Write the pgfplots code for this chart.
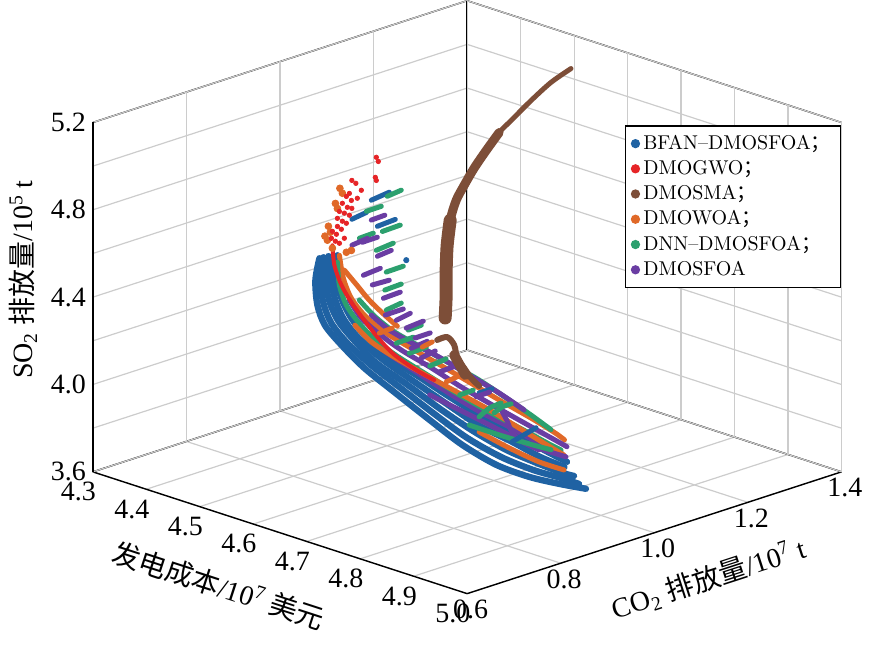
\documentclass[border=0pt]{standalone}
\usepackage{fontspec}
\usepackage{pgfplots}
\pgfplotsset{compat=1.18}
\newfontfamily\tnr{Liberation Serif}
\newfontfamily\cjk{Noto Sans CJK SC}
\definecolor{bl}{RGB}{31,98,163}
\definecolor{rd}{RGB}{230,36,39}
\definecolor{br}{RGB}{125,78,56}
\definecolor{og}{RGB}{224,105,40}
\definecolor{gn}{RGB}{44,160,110}
\definecolor{pp}{RGB}{106,61,163}
\pgfplotsset{
  strand/.style={forget plot, mark=none, line width=2.5pt, smooth, line cap=round, line join=round},
}
\begin{document}
\begin{tikzpicture}
\begin{axis}[
  x={(267.86pt,-87.14pt)}, y={(234.375pt,76.25pt)}, z={(0pt,109.375pt)},
  xmin=4.3, xmax=5.0, ymin=0.6, ymax=1.4, zmin=3.6, zmax=5.2,
  xtick={4.3,4.4,4.5,4.6,4.7,4.8,4.9,5.0},
  ytick={0.6,0.8,1.0,1.2,1.4},
  ztick={3.6,4.0,4.4,4.8,5.2},
  minor ztick={3.8,4.2,4.6,5.0},
  tick pos=left,
  grid=both,
  major grid style={draw=black!20, line width=0.6pt},
  minor grid style={draw=black!20, line width=0.6pt},
  axis line style={line width=0.7pt},
  major tick length=0pt,
  minor tick length=0pt,
  ticklabel style={font=\tnr\fontsize{14}{16}\selectfont},
  yticklabel style={xshift=-5.5pt, yshift=2pt},
  /pgf/number format/fixed,
  /pgf/number format/fixed zerofill,
  /pgf/number format/precision=1,
  /pgf/number format/assume math mode=true,
  label style={font=\tnr\fontsize{14}{16}\selectfont},
  xlabel={{\cjk 发电成本}/10\textsuperscript{7} {\cjk 美元}},
  ylabel={CO\textsubscript{2} {\cjk 排放量}/10\textsuperscript{7} t},
  zlabel={SO\textsubscript{2} {\cjk 排放量}/10\textsuperscript{5} t},
  xlabel style={at={(ticklabel cs:0.45)}, sloped like x axis, anchor=near ticklabel},
  ylabel style={at={(ticklabel cs:0.545)}, sloped like y axis, anchor=near ticklabel},
  zlabel style={at={(ticklabel cs:0.55)}, anchor=south},
  clip=false,
  legend style={at={(1,0.79)}, anchor=north east, draw=black, line width=0.8pt,
    font=\fontsize{10}{11.5}\selectfont, inner xsep=3pt, inner ysep=2.5pt, row sep=0pt},
  legend cell align=left,
  legend image code/.code={\draw[#1] plot coordinates {(0.08cm,0cm)};},
]
\coordinate (A) at (axis cs:4.3,0.6,3.6);
\addlegendimage{only marks, mark=*, mark size=1.9pt, bl}
\addlegendentry{BFAN--DMOSFOA{\cjk ；}}
\addlegendimage{only marks, mark=*, mark size=1.9pt, rd}
\addlegendentry{DMOGWO{\cjk ；}}
\addlegendimage{only marks, mark=*, mark size=1.9pt, br}
\addlegendentry{DMOSMA{\cjk ；}}
\addlegendimage{only marks, mark=*, mark size=1.9pt, og}
\addlegendentry{DMOWOA{\cjk ；}}
\addlegendimage{only marks, mark=*, mark size=1.9pt, gn}
\addlegendentry{DNN--DMOSFOA{\cjk ；}}
\addlegendimage{only marks, mark=*, mark size=1.9pt, pp}
\addlegendentry{DMOSFOA}

% ---- BFAN-DMOSFOA long fronts
\addplot3[strand, bl, line width=3.2pt] coordinates {(4.582,0.762,4.690) (4.578,0.758,4.589) (4.580,0.760,4.475) (4.587,0.768,4.383) (4.602,0.786,4.292) (4.624,0.810,4.187) (4.652,0.842,4.077) (4.685,0.880,3.949) (4.715,0.915,3.835) (4.747,0.951,3.744) (4.778,0.986,3.689) (4.806,1.018,3.657) (4.831,1.047,3.634)};
\addplot3[strand, bl, line width=3.2pt] coordinates {(4.586,0.766,4.695) (4.583,0.763,4.594) (4.586,0.766,4.484) (4.593,0.775,4.392) (4.608,0.792,4.301) (4.630,0.817,4.201) (4.657,0.849,4.096) (4.689,0.885,3.977) (4.720,0.920,3.867) (4.752,0.956,3.780) (4.782,0.990,3.721) (4.808,1.020,3.684) (4.825,1.039,3.657)};
\addplot3[strand, bl, line width=3.2pt] coordinates {(4.590,0.772,4.699) (4.587,0.768,4.603) (4.591,0.773,4.493) (4.600,0.782,4.402) (4.615,0.800,4.310) (4.635,0.823,4.210) (4.663,0.855,4.114) (4.695,0.891,4.000) (4.726,0.926,3.899) (4.756,0.962,3.812) (4.784,0.994,3.753) (4.810,1.022,3.707) (4.820,1.034,3.693)};
\addplot3[strand, bl, line width=3.2pt] coordinates {(4.594,0.776,4.699) (4.592,0.774,4.608) (4.597,0.779,4.498) (4.605,0.789,4.406) (4.620,0.806,4.315) (4.642,0.830,4.224) (4.670,0.862,4.128) (4.699,0.897,4.027) (4.730,0.932,3.926) (4.762,0.968,3.849) (4.788,0.998,3.780) (4.811,1.024,3.734)};
\addplot3[strand, bl, line width=3.2pt] coordinates {(4.599,0.781,4.704) (4.597,0.779,4.612) (4.602,0.786,4.507) (4.612,0.796,4.416) (4.627,0.813,4.324) (4.647,0.837,4.233) (4.675,0.869,4.146) (4.705,0.903,4.050) (4.736,0.938,3.958) (4.767,0.973,3.881) (4.792,1.002,3.812) (4.813,1.027,3.757)};

% ---- other long fronts
\addplot3[strand, pp] coordinates {(4.621,0.807,4.361) (4.642,0.830,4.269) (4.670,0.862,4.178) (4.699,0.897,4.082) (4.730,0.932,3.991) (4.761,0.967,3.913) (4.787,0.997,3.844) (4.808,1.020,3.803)};
\addplot3[strand, og] coordinates {(4.601,0.783,4.704) (4.604,0.788,4.598) (4.612,0.796,4.507) (4.625,0.811,4.425) (4.643,0.832,4.351) (4.664,0.856,4.288) (4.690,0.886,4.214) (4.720,0.920,4.128) (4.750,0.954,4.041) (4.780,0.988,3.958) (4.802,1.014,3.890) (4.811,1.024,3.858)};
\addplot3[strand, og] coordinates {(4.605,0.789,4.635) (4.617,0.802,4.567) (4.629,0.815,4.498) (4.643,0.832,4.429) (4.655,0.845,4.379)};
\addplot3[strand, gn] coordinates {(4.599,0.781,4.672) (4.601,0.783,4.567) (4.607,0.791,4.475) (4.618,0.804,4.397) (4.634,0.822,4.315) (4.655,0.845,4.242) (4.682,0.876,4.159) (4.712,0.910,4.068) (4.742,0.946,3.981) (4.772,0.980,3.904) (4.797,1.007,3.840) (4.808,1.020,3.812)};
\addplot3[strand, og] coordinates {(4.615,0.800,4.383) (4.630,0.818,4.306) (4.652,0.842,4.237) (4.680,0.874,4.159) (4.711,0.909,4.077) (4.741,0.944,3.995) (4.769,0.975,3.913) (4.795,1.005,3.835) (4.811,1.023,3.789)};
\addplot3[strand, pp] coordinates {(4.610,0.794,4.498) (4.621,0.807,4.416) (4.638,0.826,4.343) (4.658,0.850,4.269) (4.685,0.880,4.192) (4.714,0.914,4.100) (4.745,0.949,4.013) (4.775,0.983,3.931) (4.798,1.010,3.867) (4.813,1.027,3.826)};
\addplot3[strand, gn] coordinates {(4.619,0.805,4.498) (4.633,0.821,4.425) (4.651,0.841,4.356) (4.673,0.867,4.292) (4.699,0.897,4.219) (4.729,0.931,4.137) (4.755,0.960,4.055) (4.780,0.988,3.972) (4.798,1.010,3.904)};
\addplot3[strand, pp] coordinates {(4.630,0.818,4.429) (4.647,0.837,4.361) (4.669,0.861,4.301) (4.694,0.890,4.237) (4.722,0.922,4.155) (4.750,0.954,4.073) (4.773,0.981,3.995)};
\addplot3[strand, pp] coordinates {(4.685,0.880,4.064) (4.713,0.912,3.995) (4.741,0.944,3.926) (4.769,0.975,3.858) (4.792,1.002,3.812) (4.812,1.026,3.780)};
\addplot3[strand, pp] coordinates {(4.752,0.956,3.995) (4.756,0.962,3.954) (4.762,0.968,3.894) (4.771,0.979,3.849) (4.787,0.997,3.812)};
\addplot3[strand, og] coordinates {(4.731,0.933,3.894) (4.759,0.965,3.821) (4.787,0.997,3.757) (4.811,1.023,3.721)};
\addplot3[strand, gn] coordinates {(4.722,0.922,3.926) (4.750,0.954,3.881) (4.778,0.986,3.840) (4.798,1.010,3.812)};
\addplot3[strand, rd, line width=2pt] coordinates {(4.594,0.776,4.749) (4.596,0.778,4.658) (4.602,0.786,4.567) (4.612,0.796,4.488) (4.624,0.810,4.406) (4.636,0.824,4.329) (4.649,0.839,4.260) (4.661,0.853,4.214) (4.675,0.869,4.169) (4.689,0.885,4.132)};

% ---- short strokes (fan)
\addplot3[strand, bl] coordinates {(4.630,0.818,4.955) (4.647,0.837,4.992)};
\addplot3[strand, bl] coordinates {(4.612,0.797,4.868) (4.626,0.812,4.900)};
\addplot3[strand, bl] coordinates {(4.636,0.824,4.836) (4.653,0.843,4.868)};
\addplot3[strand, bl] coordinates {(4.731,0.933,4.073) (4.743,0.947,4.091)};
\addplot3[strand, bl] coordinates {(4.762,0.968,3.849) (4.784,0.994,3.913)};
\addplot3[forget plot, only marks, mark=*, mark size=1.3pt, bl] coordinates {(4.663,0.855,4.681)};

\addplot3[strand, gn] coordinates {(4.626,0.812,4.905) (4.640,0.828,4.928)};
\addplot3[strand, gn] coordinates {(4.645,0.835,4.973) (4.658,0.850,5.001)};
\addplot3[strand, gn] coordinates {(4.641,0.829,4.813) (4.657,0.849,4.841)};
\addplot3[strand, gn] coordinates {(4.619,0.805,4.781) (4.632,0.820,4.804)};
\addplot3[strand, gn] coordinates {(4.635,0.823,4.726) (4.651,0.841,4.759)};
\addplot3[strand, gn] coordinates {(4.644,0.834,4.626) (4.660,0.852,4.653)};
\addplot3[strand, gn] coordinates {(4.643,0.832,4.544) (4.658,0.850,4.571)};
\addplot3[strand, gn] coordinates {(4.644,0.834,4.452) (4.658,0.850,4.484)};
\addplot3[strand, gn] coordinates {(4.665,0.857,4.361) (4.677,0.871,4.383)};
\addplot3[strand, gn] coordinates {(4.654,0.844,4.301) (4.670,0.862,4.329)};
\addplot3[strand, gn] coordinates {(4.666,0.858,4.255) (4.682,0.876,4.283)};
\addplot3[strand, gn] coordinates {(4.685,0.880,4.196) (4.700,0.898,4.228)};
\addplot3[strand, gn] coordinates {(4.713,0.912,4.064) (4.726,0.926,4.086)};
\addplot3[strand, gn] coordinates {(4.731,0.933,3.963) (4.741,0.944,4.004) (4.752,0.956,4.027)};
\addplot3[strand, gn] coordinates {(4.745,0.949,3.981) (4.753,0.957,4.009) (4.761,0.967,4.023)};

\addplot3[strand, pp] coordinates {(4.630,0.818,4.864) (4.643,0.832,4.887)};
\addplot3[strand, pp] coordinates {(4.612,0.797,4.749) (4.627,0.813,4.781)};
\addplot3[strand, pp] coordinates {(4.622,0.808,4.763) (4.636,0.824,4.786)};
\addplot3[strand, pp] coordinates {(4.636,0.824,4.699) (4.649,0.839,4.726)};
\addplot3[strand, pp] coordinates {(4.623,0.809,4.612) (4.639,0.827,4.644)};
\addplot3[strand, pp] coordinates {(4.631,0.819,4.567) (4.647,0.837,4.589)};
\addplot3[strand, pp] coordinates {(4.642,0.830,4.507) (4.657,0.849,4.534)};
\addplot3[strand, pp] coordinates {(4.643,0.833,4.429) (4.660,0.852,4.457)};
\addplot3[strand, pp] coordinates {(4.654,0.844,4.406) (4.667,0.859,4.438)};
\addplot3[strand, pp] coordinates {(4.663,0.855,4.370) (4.679,0.873,4.402)};
\addplot3[strand, pp] coordinates {(4.671,0.865,4.324) (4.685,0.881,4.347)};
\addplot3[strand, pp] coordinates {(4.668,0.860,4.278) (4.683,0.877,4.310)};
\addplot3[strand, pp] coordinates {(4.677,0.871,4.233) (4.690,0.886,4.265)};
\addplot3[strand, pp] coordinates {(4.694,0.890,4.169) (4.709,0.907,4.196)};
\addplot3[strand, pp] coordinates {(4.728,0.930,4.055) (4.741,0.944,4.077)};

\addplot3[strand, og] coordinates {(4.638,0.826,4.347) (4.650,0.840,4.370)};
\addplot3[strand, og] coordinates {(4.678,0.872,4.283) (4.687,0.883,4.306)};
\addplot3[strand, og] coordinates {(4.700,0.898,4.123) (4.714,0.914,4.155)};

% ---- scattered points
\addplot3[forget plot, only marks, mark=*, mark size=1.7pt, og] coordinates {(4.601,0.784,5.010) (4.603,0.787,4.987) (4.597,0.779,4.941) (4.599,0.781,4.918) (4.590,0.772,4.836) (4.592,0.774,4.809) (4.587,0.768,4.791) (4.589,0.771,4.772) (4.594,0.776,4.736) (4.607,0.791,4.717) (4.612,0.796,4.726)};
\addplot3[forget plot, only marks, mark=*, mark size=1.1pt, rd] coordinates {(4.635,0.823,5.152) (4.637,0.825,5.133) (4.634,0.822,5.060) (4.635,0.823,5.046) (4.612,0.797,5.046) (4.616,0.801,5.033) (4.621,0.807,5.001) (4.610,0.794,4.987) (4.607,0.791,4.973) (4.612,0.796,4.955) (4.617,0.803,4.964) (4.603,0.787,4.941) (4.608,0.792,4.923) (4.612,0.797,4.918) (4.601,0.783,4.905) (4.605,0.789,4.896) (4.610,0.794,4.887) (4.599,0.781,4.873) (4.603,0.787,4.859) (4.607,0.791,4.850) (4.599,0.781,4.836) (4.602,0.786,4.822) (4.594,0.776,4.813) (4.598,0.780,4.800) (4.593,0.775,4.781) (4.597,0.779,4.768) (4.605,0.789,4.781) (4.601,0.783,4.759)};

% ---- DMOSMA
\addplot3[strand, br, line width=2.5pt] coordinates {(4.572,1.311,5.168) (4.553,1.290,5.104) (4.535,1.268,5.022) (4.516,1.247,4.930) (4.505,1.234,4.875) (4.493,1.220,4.793) (4.481,1.208,4.711) (4.472,1.197,4.633) (4.465,1.188,4.565) (4.459,1.182,4.473) (4.456,1.179,4.359) (4.455,1.178,4.245) (4.455,1.178,4.130) (4.454,1.177,4.025)};
\addplot3[strand, br, line width=4.5pt] coordinates {(4.505,1.234,4.875) (4.493,1.220,4.793) (4.481,1.208,4.711) (4.472,1.197,4.633) (4.465,1.188,4.565) (4.459,1.182,4.473) (4.456,1.179,4.359) (4.455,1.178,4.245) (4.455,1.178,4.130) (4.454,1.177,4.025)};
\addplot3[strand, br, line width=6.5pt] coordinates {(4.459,1.182,4.473) (4.456,1.179,4.359) (4.455,1.178,4.245) (4.455,1.178,4.130) (4.454,1.177,4.025)};
\addplot3[strand, br, line width=3pt] coordinates {(4.447,1.168,3.925) (4.456,1.179,3.938) (4.463,1.186,3.902) (4.466,1.189,3.842) (4.472,1.197,3.796) (4.479,1.204,3.751) (4.486,1.213,3.714)};
\addplot3[strand, br, line width=5pt] coordinates {(4.463,1.186,3.856) (4.473,1.198,3.765)};
\end{axis}
\path (A) ++(-46.5pt,-93pt) rectangle ++(434.5pt,329pt);
\end{tikzpicture}
\end{document}
